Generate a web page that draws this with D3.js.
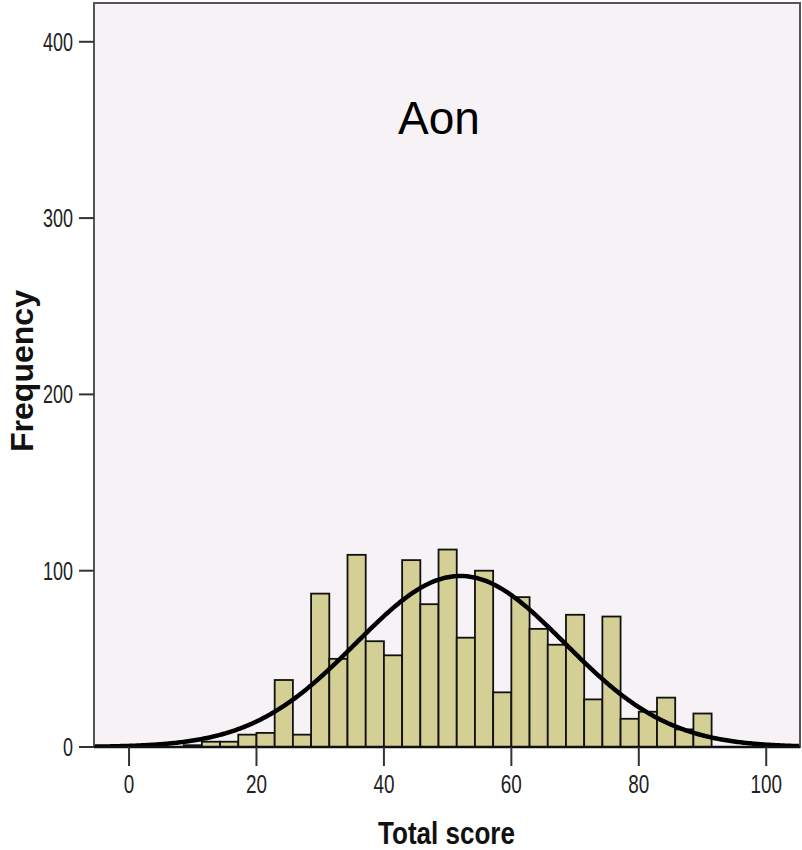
<!DOCTYPE html>
<html>
<head>
<meta charset="utf-8">
<script src="https://cdn.jsdelivr.net/npm/d3@7"></script>
<style>
  body { margin: 0; background: #fff; }
  svg { display: block; }
</style>
</head>
<body>
<div class="chart"></div>
<script>
// histogram bins: width 20/7, first bin starts at 0
var binStart = 0,
    binWidth = 20 / 7;
var binCounts = [0, 0, 0, 1, 3, 3, 7, 8, 38, 7, 87, 50, 109, 60, 52, 106, 81, 112,
                 62, 100, 31, 85, 67, 58, 75, 27, 74, 16, 20, 28, 10, 19, 0, 0, 0];
// fitted normal curve
var curveMean = 52,
    curveSd = 16.4;
var xTicks = [0, 20, 40, 60, 80, 100],
    yTicks = [0, 100, 200, 300, 400];
var title = "Aon",
    xTitle = "Total score",
    yTitle = "Frequency";

var width = 802,
    height = 850,
    plotLeft = 94,
    plotTop = 3,
    plotRight = 800,
    plotBottom = 747;

var svg = d3.select(".chart").append("svg")
    .attr("width", width)
    .attr("height", height);

var x = d3.scaleLinear().domain([-5.5, 105.3]).range([plotLeft, plotRight]);
var y = d3.scaleLinear().domain([0, 422]).range([plotBottom, plotTop]);

svg.append("defs").append("clipPath").attr("id", "plotClip")
    .append("rect")
    .attr("x", plotLeft).attr("y", plotTop)
    .attr("width", plotRight - plotLeft).attr("height", plotBottom - plotTop);

// plot background
svg.append("rect")
    .attr("x", plotLeft).attr("y", plotTop)
    .attr("width", plotRight - plotLeft).attr("height", plotBottom - plotTop)
    .style("fill", "#f6f2f6");

var bins = binCounts.map(function(c, i) {
    return { x0: binStart + i * binWidth, x1: binStart + (i + 1) * binWidth, count: c };
}).filter(function(b) { return b.count > 0; });

svg.append("g").attr("clip-path", "url(#plotClip)")
    .selectAll("rect")
    .data(bins)
    .enter().append("rect")
    .attr("x", function(d) { return x(d.x0); })
    .attr("y", function(d) { return y(d.count); })
    .attr("width", function(d) { return x(d.x1) - x(d.x0); })
    .attr("height", function(d) { return y(0) - y(d.count); })
    .style("fill", "#d4cf95")
    .style("stroke", "#111")
    .style("stroke-width", 1.8);

// normal curve scaled to counts
var total = d3.sum(binCounts);
var curvePts = d3.range(-6, 106.01, 0.25).map(function(v) {
    var z = (v - curveMean) / curveSd;
    return [v, total * binWidth / (curveSd * Math.sqrt(2 * Math.PI)) * Math.exp(-0.5 * z * z)];
});
var line = d3.line()
    .x(function(d) { return x(d[0]); })
    .y(function(d) { return y(d[1]); })
    .curve(d3.curveBasis);

svg.append("path")
    .attr("clip-path", "url(#plotClip)")
    .datum(curvePts)
    .attr("d", line)
    .style("fill", "none")
    .style("stroke", "#000")
    .style("stroke-width", 4.5);

// frame
svg.append("rect")
    .attr("x", plotLeft).attr("y", plotTop)
    .attr("width", plotRight - plotLeft).attr("height", plotBottom - plotTop)
    .style("fill", "none")
    .style("stroke", "#555")
    .style("stroke-width", 2);
svg.append("line")
    .attr("x1", plotLeft).attr("x2", plotRight)
    .attr("y1", plotBottom).attr("y2", plotBottom)
    .style("stroke", "#111")
    .style("stroke-width", 2.5);

// y axis ticks
var yAxis = svg.append("g");
yAxis.selectAll("line")
    .data(yTicks).enter().append("line")
    .attr("x1", plotLeft - 15).attr("x2", plotLeft)
    .attr("y1", function(d) { return y(d); })
    .attr("y2", function(d) { return y(d); })
    .style("stroke", "#333")
    .style("stroke-width", 2);
yAxis.selectAll("text")
    .data(yTicks).enter().append("text")
    .attr("x", plotLeft - 21)
    .attr("y", function(d) { return y(d) + 9; })
    .attr("text-anchor", "end")
    .attr("textLength", function(d) { return String(d).length * 10; })
    .attr("lengthAdjust", "spacingAndGlyphs")
    .style("font-family", "'Liberation Sans', Arial, sans-serif")
    .style("font-size", "25px")
    .style("fill", "#222")
    .text(function(d) { return d; });

// x axis ticks
var xAxis = svg.append("g");
xAxis.selectAll("line")
    .data(xTicks).enter().append("line")
    .attr("x1", function(d) { return x(d); })
    .attr("x2", function(d) { return x(d); })
    .attr("y1", plotBottom).attr("y2", plotBottom + 19)
    .style("stroke", "#333")
    .style("stroke-width", 2);
xAxis.selectAll("text")
    .data(xTicks).enter().append("text")
    .attr("x", function(d) { return x(d); })
    .attr("y", 793)
    .attr("text-anchor", "middle")
    .attr("textLength", function(d) { return String(d).length * 10.5; })
    .attr("lengthAdjust", "spacingAndGlyphs")
    .style("font-family", "'Liberation Sans', Arial, sans-serif")
    .style("font-size", "25px")
    .style("fill", "#222")
    .text(function(d) { return d; });

// titles
svg.append("text")
    .attr("x", 439).attr("y", 134)
    .attr("text-anchor", "middle")
    .style("font-family", "'Liberation Sans', Arial, sans-serif")
    .style("font-size", "46px")
    .style("fill", "#000")
    .text(title);

svg.append("text")
    .attr("x", 446.5).attr("y", 844)
    .attr("text-anchor", "middle")
    .attr("textLength", 137)
    .attr("lengthAdjust", "spacingAndGlyphs")
    .style("font-family", "'Liberation Sans', Arial, sans-serif")
    .style("font-weight", "bold")
    .style("font-size", "31px")
    .style("fill", "#111")
    .text(xTitle);

svg.append("text")
    .attr("transform", "translate(33,371) rotate(-90)")
    .attr("text-anchor", "middle")
    .attr("textLength", 162)
    .attr("lengthAdjust", "spacingAndGlyphs")
    .style("font-family", "'Liberation Sans', Arial, sans-serif")
    .style("font-weight", "bold")
    .style("font-size", "31px")
    .style("fill", "#111")
    .text(yTitle);
</script>
</body>
</html>
